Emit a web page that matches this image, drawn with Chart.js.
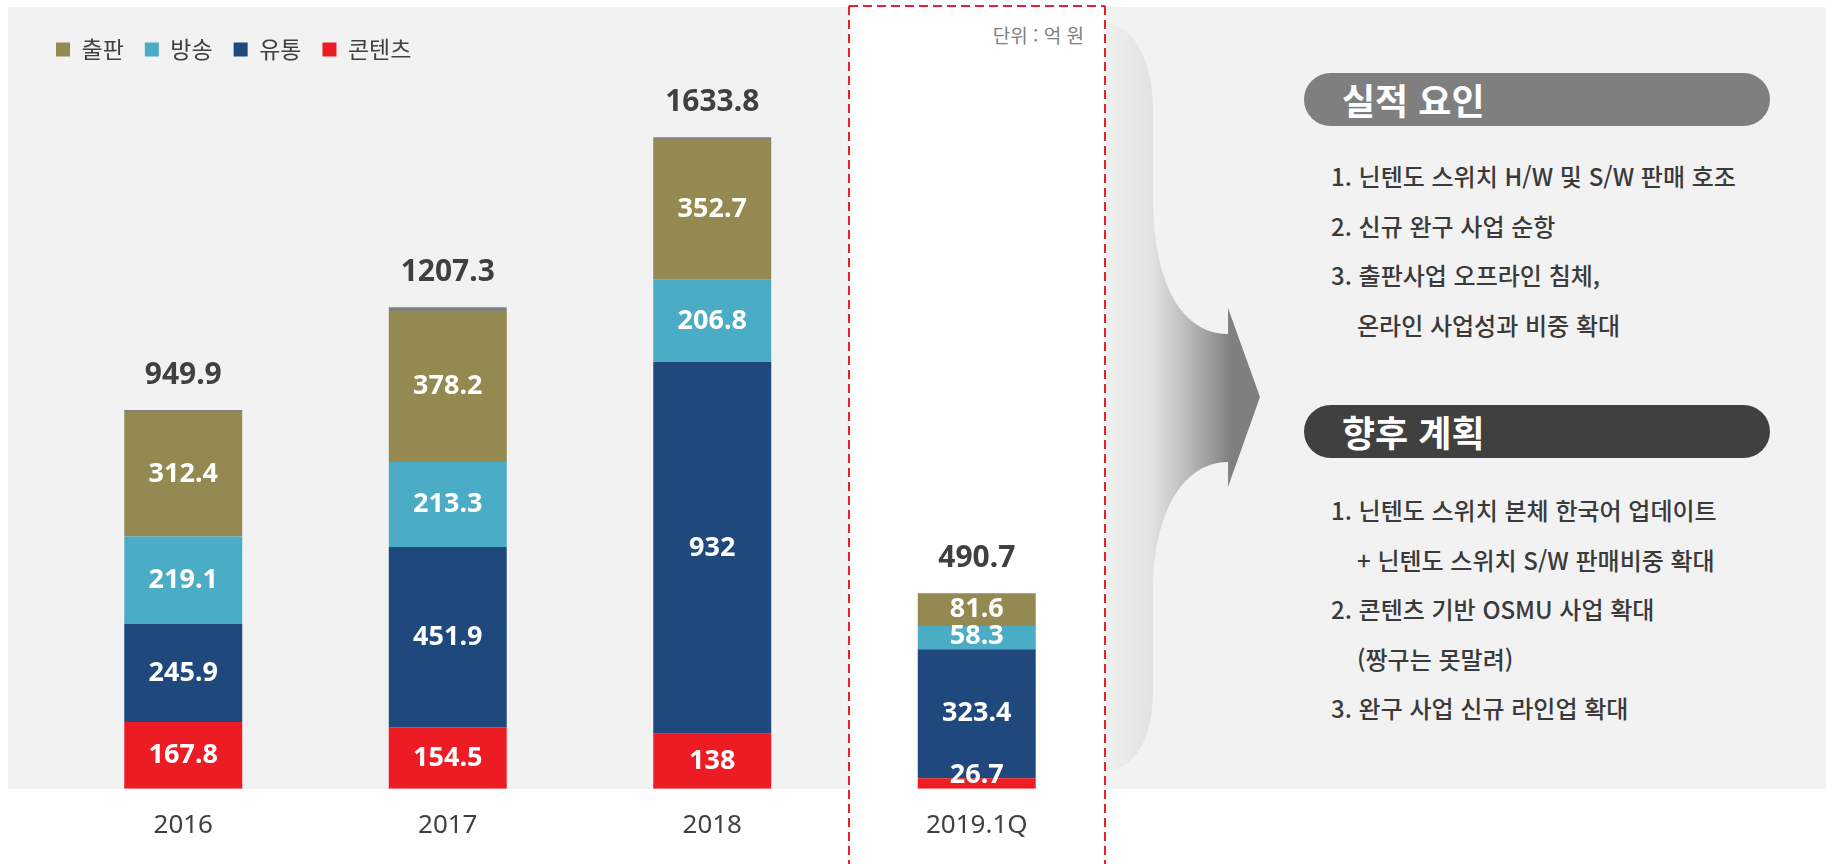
<!DOCTYPE html>
<html lang="ko">
<head>
<meta charset="utf-8">
<script src="https://cdn.jsdelivr.net/npm/chart.js@4.4.1/dist/chart.umd.min.js"></script>
<style>
  html, body { margin: 0; padding: 0; background: #fff; }
  body { width: 1826px; height: 864px; position: relative; overflow: hidden; font-family: "Noto Sans CJK KR", "Noto Sans", sans-serif; }
  .panel { position: absolute; background: #f2f2f2; top: 7px; height: 782px; }
  #p1 { left: 8px; width: 840px; }
  #p2 { left: 1106px; width: 720px; }
  #deco { position: absolute; left: 0; top: 0; }
  #wrap { position: absolute; left: 0; top: 0; width: 1110px; height: 864px; }
  .unit { position: absolute; left: 964px; width: 120px; text-align: right; top: 21px; font-size: 19px; color: #7f7f7f; white-space: nowrap; }
  .pill { position: absolute; left: 1304px; width: 466px; height: 53px; border-radius: 27px; color: #fff; font-size: 36px; font-weight: bold; line-height: 53px; padding-left: 38px; box-sizing: border-box; }
  .list { position: absolute; left: 1331px; font-size: 24px; line-height: 49.5px; color: #3a3a3a; font-weight: 500; white-space: nowrap; }
  .list .ind { padding-left: 26px; }
</style>
</head>
<body>
<div class="panel" id="p1"></div>
<div class="panel" id="p2"></div>

<svg id="deco" width="1826" height="864">
  <defs>
    <linearGradient id="curl" gradientUnits="userSpaceOnUse" x1="1107" y1="0" x2="1232" y2="0">
      <stop offset="0" stop-color="#efefef"/>
      <stop offset="0.36" stop-color="#e2e2e2"/>
      <stop offset="0.62" stop-color="#bebebe"/>
      <stop offset="1" stop-color="#7f7f7f"/>
    </linearGradient>
  </defs>
  <path d="M1107 23 C1135 28 1153 60 1153 110 L1153 205 C1155 290 1185 334 1228 334 L1228 308 L1260 397 L1228 487 L1228 462 C1185 462 1153 510 1153 590 L1153 690 C1153 740 1135 768 1107 771 Z" fill="url(#curl)"/>
  <g stroke="#e8202a" stroke-width="2" stroke-dasharray="9 5" fill="none">
    <line x1="849" y1="6" x2="849" y2="864"/>
    <line x1="1105" y1="6" x2="1105" y2="864"/>
    <line x1="849" y1="6" x2="1105" y2="6"/>
  </g>
</svg>

<div class="unit">단위 : 억 원</div>

<div class="pill" style="top:73px; background:#7f7f7f;">실적 요인</div>
<div class="list" style="top:151px;">
  <div>1. 닌텐도 스위치 H/W 및 S/W 판매 호조</div>
  <div>2. 신규 완구 사업 순항</div>
  <div>3. 출판사업 오프라인 침체,</div>
  <div class="ind">온라인 사업성과 비중 확대</div>
</div>

<div class="pill" style="top:405px; background:#404040;">향후 계획</div>
<div class="list" style="top:485px;">
  <div>1. 닌텐도 스위치 본체 한국어 업데이트</div>
  <div class="ind">+ 닌텐도 스위치 S/W 판매비중 확대</div>
  <div>2. 콘텐츠 기반 OSMU 사업 확대</div>
  <div class="ind">(짱구는 못말려)</div>
  <div>3. 완구 사업 신규 라인업 확대</div>
</div>

<div id="wrap"><canvas id="chart" width="1110" height="864"></canvas></div>

<script>
  // 단위: 억 원
  const years = ['2016', '2017', '2018', '2019.1Q'];
  const contents = [167.8, 154.5, 138, 26.7];      // 콘텐츠
  const distribution = [245.9, 451.9, 932, 323.4]; // 유통
  const broadcast = [219.1, 213.3, 206.8, 58.3];   // 방송
  const publishing = [312.4, 378.2, 352.7, 81.6];  // 출판
  const others = [4.7, 9.4, 4.3, 0.7];             // 나머지 (맨 위 얇은 회색)
  const totals = [949.9, 1207.3, 1633.8, 490.7];

  const labelFont = '"Noto Sans", "Noto Sans CJK KR", sans-serif';

  const segLabels = {
    id: 'segLabels',
    afterDatasetsDraw(chart) {
      const ctx = chart.ctx;
      ctx.save();
      ctx.textAlign = 'center';
      ctx.textBaseline = 'middle';
      ctx.font = 'bold 27px ' + labelFont;
      ctx.fillStyle = '#ffffff';
      for (let di = 0; di < 4; di++) {
        const vals = chart.data.datasets[di].data;
        chart.getDatasetMeta(di).data.forEach((bar, i) => {
          const mid = (bar.y + bar.base) / 2;
          ctx.fillText(String(vals[i]), bar.x, Math.min(mid, bar.base - 13));
        });
      }
      // 합계
      ctx.font = 'bold 30px ' + labelFont;
      ctx.fillStyle = '#404040';
      chart.getDatasetMeta(4).data.forEach((bar, i) => {
        ctx.fillText(totals[i].toFixed(1), bar.x, bar.y - 35);
      });
      ctx.restore();
    }
  };

  new Chart(document.getElementById('chart'), {
    type: 'bar',
    data: {
      labels: years,
      datasets: [
        { label: '콘텐츠', data: contents, backgroundColor: '#ed1c24' },
        { label: '유통', data: distribution, backgroundColor: '#1f497d' },
        { label: '방송', data: broadcast, backgroundColor: '#4bacc6' },
        { label: '출판', data: publishing, backgroundColor: '#938951' },
        { label: '기타', data: others, backgroundColor: '#808080' }
      ]
    },
    options: {
      responsive: false,
      animation: false,
      datasets: {
        bar: { barPercentage: 0.446, categoryPercentage: 1, borderWidth: 0 }
      },
      layout: { padding: { left: 35, right: 1, top: 17, bottom: 2 } },
      plugins: {
        tooltip: { enabled: false },
        legend: {
          position: 'top',
          align: 'start',
          reverse: true,
          labels: {
            boxWidth: 14,
            boxHeight: 14,
            padding: 21,
            color: '#404040',
            font: { size: 23, family: '"Noto Sans CJK KR", sans-serif' },
            filter: item => item.text !== '기타'
          }
        }
      },
      scales: {
        x: {
          stacked: true,
          grid: { display: false, drawTicks: false },
          border: { display: false },
          ticks: { color: '#404040', padding: 21, font: { size: 26, family: labelFont } }
        },
        y: {
          stacked: true,
          min: 0,
          max: 1800,
          grid: { display: false, drawTicks: false },
          border: { display: false },
          ticks: { display: false },
          afterFit: s => { s.width = 16; }
        }
      }
    },
    plugins: [segLabels]
  });
</script>
</body>
</html>
